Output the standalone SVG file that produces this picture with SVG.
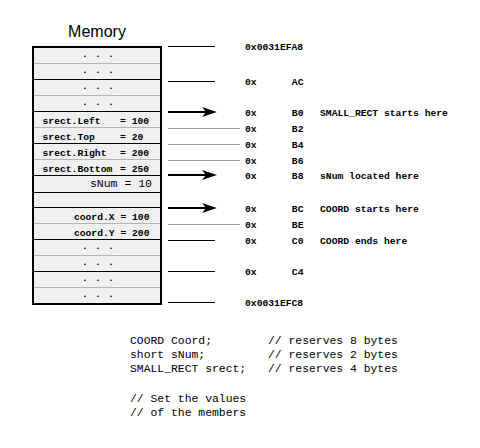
<svg xmlns="http://www.w3.org/2000/svg" width="480" height="448" viewBox="0 0 480 448">
<style>
.cell{font-family:"Liberation Mono","DejaVu Sans Mono",monospace;font-size:9.7px;font-weight:bold;fill:#000}
.addr{font-family:"Liberation Mono","DejaVu Sans Mono",monospace;font-size:9.7px;font-weight:bold;fill:#000}
.code{font-family:"Liberation Mono","DejaVu Sans Mono",monospace;font-size:11.4px;fill:#000}
.sep-b{stroke:#000;stroke-width:1}
.sep-g{stroke:#b4b4b4;stroke-width:1}
.tick-b{stroke:#000;stroke-width:1}
.tick-g{stroke:#999;stroke-width:1}
.arr{stroke:#000;stroke-width:2}
</style>
<defs>
<path id="head" d="M0,0 L-15,-5 L-11,0 L-15,5 Z" fill="#000"/>
</defs>
<rect width="480" height="448" fill="#fff"/>
<text x="97" y="37" text-anchor="middle" font-family="Liberation Sans, Arial, sans-serif" font-size="16">Memory</text>

<g id="memory">
<rect x="33" y="47" width="128" height="257" fill="#f0f0f0" stroke="none"/>
<line class="sep-g" x1="33" y1="63.5" x2="161" y2="63.5"/>
<line class="sep-b" x1="33" y1="79.5" x2="161" y2="79.5"/>
<line class="sep-g" x1="33" y1="95.5" x2="161" y2="95.5"/>
<line class="sep-b" x1="33" y1="111.5" x2="161" y2="111.5"/>
<line class="sep-g" x1="33" y1="127.5" x2="161" y2="127.5"/>
<line class="sep-b" x1="33" y1="143.5" x2="161" y2="143.5"/>
<line class="sep-g" x1="33" y1="159.5" x2="161" y2="159.5"/>
<line class="sep-b" x1="33" y1="175.5" x2="161" y2="175.5"/>
<line class="sep-b" x1="33" y1="192.5" x2="161" y2="192.5"/>
<line class="sep-b" x1="33" y1="207.5" x2="161" y2="207.5"/>
<line class="sep-g" x1="33" y1="223.5" x2="161" y2="223.5"/>
<line class="sep-b" x1="33" y1="239.5" x2="161" y2="239.5"/>
<line class="sep-g" x1="33" y1="255.5" x2="161" y2="255.5"/>
<line class="sep-b" x1="33" y1="271.5" x2="161" y2="271.5"/>
<line class="sep-g" x1="33" y1="287.5" x2="161" y2="287.5"/>
<rect x="33" y="47" width="128" height="257" fill="none" stroke="#000" stroke-width="2"/>
</g>

<g id="row-dots-1"><text class="cell" x="82 95 108" y="57">...</text></g>
<g id="row-dots-2"><text class="cell" x="82 95 108" y="73">...</text></g>
<g id="row-dots-3"><text class="cell" x="82 95 108" y="89">...</text></g>
<g id="row-dots-4"><text class="cell" x="82 95 108" y="105">...</text></g>
<g id="row-left"><text class="cell" x="42.5" y="123.5">srect.Left</text><text class="cell" x="120" y="123.5">= 100</text></g>
<g id="row-top"><text class="cell" x="42.5" y="139.5">srect.Top</text><text class="cell" x="120" y="139.5">= 20</text></g>
<g id="row-right"><text class="cell" x="42.5" y="155.5">srect.Right</text><text class="cell" x="120" y="155.5">= 200</text></g>
<g id="row-bottom"><text class="cell" x="42.5" y="171.5">srect.Bottom</text><text class="cell" x="120" y="171.5">= 250</text></g>
<g id="row-snum"><text x="152" y="187" text-anchor="end" font-family="Liberation Mono, monospace" font-size="11.5">sNum = 10</text></g>
<g id="row-coordx"><text class="cell" x="149.5" y="219.5" text-anchor="end">coord.X = 100</text></g>
<g id="row-coordy"><text class="cell" x="149.5" y="235.5" text-anchor="end">coord.Y = 200</text></g>
<g id="row-dots-5"><text class="cell" x="82 95 108" y="249">...</text></g>
<g id="row-dots-6"><text class="cell" x="82 95 108" y="265">...</text></g>
<g id="row-dots-7"><text class="cell" x="82 95 108" y="281">...</text></g>
<g id="row-dots-8"><text class="cell" x="82 95 108" y="297">...</text></g>

<g id="connectors">
<line class="tick-b" x1="168" y1="46.5" x2="215" y2="46.5"/>
<line class="tick-b" x1="168" y1="81.5" x2="215" y2="81.5"/>
<line class="arr" x1="168" y1="112" x2="208" y2="112"/><use href="#head" x="217" y="112"/>
<line class="tick-g" x1="168" y1="128.5" x2="240" y2="128.5"/>
<line class="tick-g" x1="168" y1="144.5" x2="240" y2="144.5"/>
<line class="tick-g" x1="168" y1="160.5" x2="240" y2="160.5"/>
<line class="arr" x1="168" y1="175" x2="208" y2="175"/><use href="#head" x="217" y="175"/>
<line class="arr" x1="168" y1="208" x2="208" y2="208"/><use href="#head" x="217" y="208"/>
<line class="tick-g" x1="168" y1="224.5" x2="240" y2="224.5"/>
<line class="tick-b" x1="168" y1="240.5" x2="215" y2="240.5"/>
<line class="tick-b" x1="168" y1="271.5" x2="215" y2="271.5"/>
<line class="tick-b" x1="168" y1="302.5" x2="215" y2="302.5"/>
</g>

<g id="addr-a8"><text class="addr" x="245" y="50">0x0031EFA8</text></g>
<g id="addr-ac"><text class="addr" x="245" y="84.5">0x</text><text class="addr" x="303.5" y="84.5" text-anchor="end">AC</text></g>
<g id="addr-b0"><text class="addr" x="245" y="116">0x</text><text class="addr" x="303.5" y="116" text-anchor="end">B0</text><text class="addr" x="320" y="116">SMALL_RECT starts here</text></g>
<g id="addr-b2"><text class="addr" x="245" y="131.5">0x</text><text class="addr" x="303.5" y="131.5" text-anchor="end">B2</text></g>
<g id="addr-b4"><text class="addr" x="245" y="147.5">0x</text><text class="addr" x="303.5" y="147.5" text-anchor="end">B4</text></g>
<g id="addr-b6"><text class="addr" x="245" y="163.5">0x</text><text class="addr" x="303.5" y="163.5" text-anchor="end">B6</text></g>
<g id="addr-b8"><text class="addr" x="245" y="178.5">0x</text><text class="addr" x="303.5" y="178.5" text-anchor="end">B8</text><text class="addr" x="320" y="178.5">sNum located here</text></g>
<g id="addr-bc"><text class="addr" x="245" y="211.5">0x</text><text class="addr" x="303.5" y="211.5" text-anchor="end">BC</text><text class="addr" x="320" y="211.5">COORD starts here</text></g>
<g id="addr-be"><text class="addr" x="245" y="227.5">0x</text><text class="addr" x="303.5" y="227.5" text-anchor="end">BE</text></g>
<g id="addr-c0"><text class="addr" x="245" y="243.5">0x</text><text class="addr" x="303.5" y="243.5" text-anchor="end">C0</text><text class="addr" x="320" y="243.5">COORD ends here</text></g>
<g id="addr-c4"><text class="addr" x="245" y="275">0x</text><text class="addr" x="303.5" y="275" text-anchor="end">C4</text></g>
<g id="addr-c8"><text class="addr" x="245" y="305.5">0x0031EFC8</text></g>

<g id="code">
<text class="code" x="130" y="344">COORD Coord;</text><text class="code" x="268" y="344">// reserves 8 bytes</text>
<text class="code" x="130" y="358">short sNum;</text><text class="code" x="268" y="358">// reserves 2 bytes</text>
<text class="code" x="130" y="372">SMALL_RECT srect;</text><text class="code" x="268" y="372">// reserves 4 bytes</text>
<text class="code" x="130" y="402">// Set the values</text>
<text class="code" x="130" y="416">// of the members</text>
</g>
</svg>
